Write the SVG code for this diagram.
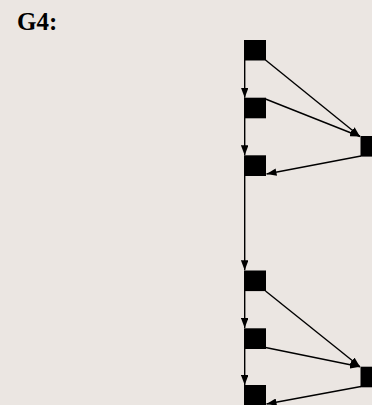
<svg xmlns="http://www.w3.org/2000/svg" width="372" height="405" viewBox="0 0 372 405">
  <style>
    .node { fill: #000; }
    .edge { stroke: #000; stroke-width: 1.4; fill: none; marker-end: url(#arrow); }
    .title { font-family: "Liberation Serif", "Times New Roman", serif; font-weight: bold; font-size: 25px; fill: #000; }
  </style>
  <defs>
    <!-- filled triangular arrowhead shared by every connector -->
    <marker id="arrow" markerUnits="userSpaceOnUse" markerWidth="10" markerHeight="7.5" refX="10" refY="3.75" orient="auto">
      <path d="M0,0 L10,3.75 L0,7.5 z" fill="#000"/>
    </marker>
  </defs>
  <rect width="372" height="405" fill="#ebe6e2"/>
  <text class="title" x="17" y="30">G4:</text>

  <g id="edges">
    <line class="edge" x1="244.7" y1="60" x2="244.7" y2="97.7"/>
    <line class="edge" x1="244.7" y1="118" x2="244.7" y2="155.3"/>
    <line class="edge" x1="244.7" y1="176" x2="244.7" y2="270.3"/>
    <line class="edge" x1="244.7" y1="291" x2="244.7" y2="328"/>
    <line class="edge" x1="244.7" y1="349" x2="244.7" y2="385"/>
    <line class="edge" x1="265.5" y1="60" x2="360" y2="136.5"/>
    <line class="edge" x1="265.5" y1="99" x2="360" y2="136.5"/>
    <line class="edge" x1="361" y1="156" x2="266.5" y2="174"/>
    <line class="edge" x1="265.5" y1="291" x2="360" y2="366.8"/>
    <line class="edge" x1="265.5" y1="347.5" x2="360" y2="366.8"/>
    <line class="edge" x1="361" y1="386.5" x2="266.5" y2="404"/>
  </g>

  <g id="n1"><rect class="node" x="244" y="40" width="22" height="20.5"/></g>
  <g id="n2"><rect class="node" x="244" y="97.7" width="22" height="20.6"/></g>
  <g id="n3"><rect class="node" x="244" y="155.3" width="22" height="20.7"/></g>
  <g id="n4"><rect class="node" x="244" y="270.5" width="22" height="20.6"/></g>
  <g id="n5"><rect class="node" x="244" y="328.3" width="22" height="20.7"/></g>
  <g id="n6"><rect class="node" x="244" y="385" width="22" height="21"/></g>
  <g id="r1"><rect class="node" x="360.5" y="136" width="22" height="20.6"/></g>
  <g id="r2"><rect class="node" x="360.5" y="366.7" width="22" height="20.6"/></g>
</svg>
